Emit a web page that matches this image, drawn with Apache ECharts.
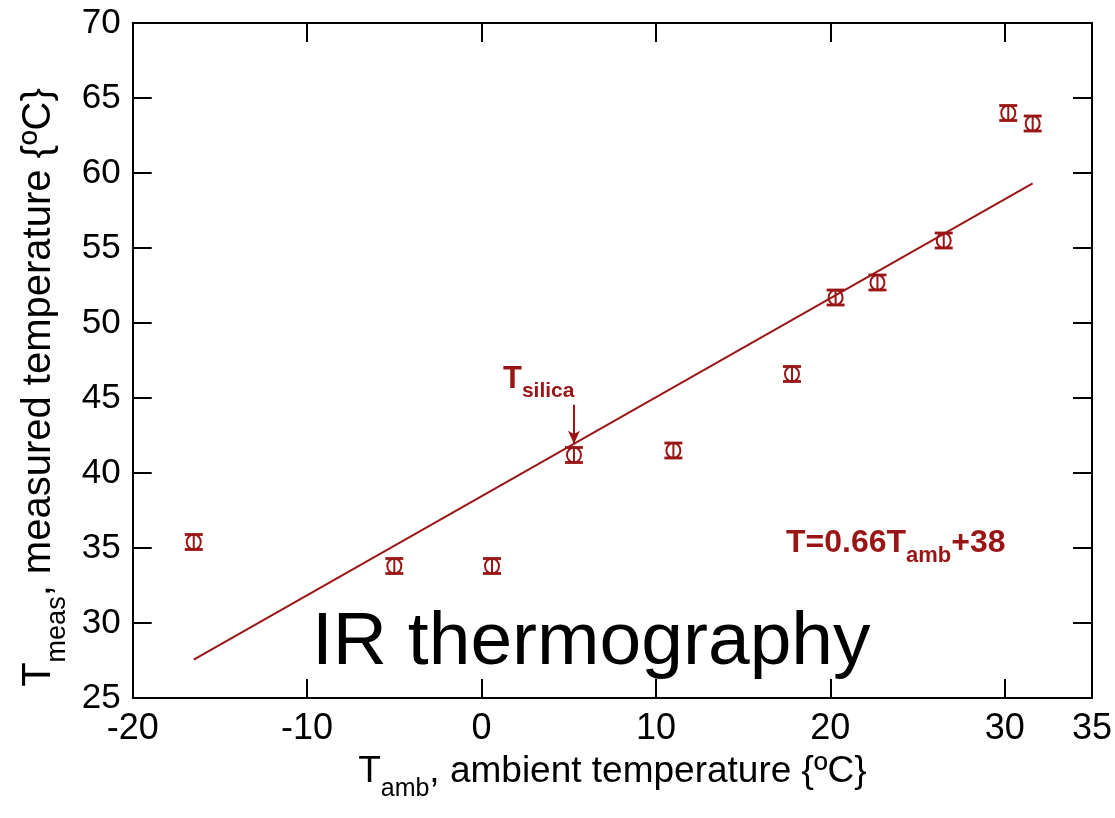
<!DOCTYPE html>
<html>
<head>
<meta charset="utf-8">
<script src="https://cdn.jsdelivr.net/npm/echarts@6/dist/echarts.min.js"></script>
<style>
  html, body { margin: 0; padding: 0; background: #fff; }
  #chart { width: 1115px; height: 818px; }
</style>
</head>
<body>
<div id="chart"></div>
<script>
// Ambient vs. measured temperature (IR thermography), with linear fit
const ambientTemp  = [-16.5, -5.0, 0.6, 5.3, 11.0, 17.8, 20.3, 22.7, 26.5, 30.2, 31.6];
const measuredTemp = [35.4, 33.8, 33.8, 41.2, 41.5, 46.6, 51.7, 52.7, 55.5, 64.0, 63.3];
const measuredErr  = [0.5, 0.5, 0.5, 0.5, 0.5, 0.5, 0.5, 0.5, 0.5, 0.5, 0.5];

// linear fit T = a * Tamb + b
const fitSlope = 0.66;
const fitIntercept = 38.45;

// index of the silica reference point marked by the arrow
const silicaIndex = 3;

// axis ranges and tick steps
const xMin = -20, xMax = 35, xStep = 10;
const yMin = 25, yMax = 70, yStep = 5;

const RED = '#9a1616';
const FONT = '"Liberation Sans", Arial, sans-serif';

const fit = x => fitSlope * x + fitIntercept;
const fitX0 = Math.min(...ambientTemp);
const fitX1 = Math.max(...ambientTemp);
const silicaX = ambientTemp[silicaIndex];

const points = ambientTemp.map((x, i) => [x, measuredTemp[i], measuredErr[i]]);

// hollow marker with vertical error bar and caps
function renderErrPoint(params, api) {
  const x = api.value(0), y = api.value(1), e = api.value(2);
  const c = api.coord([x, y]);
  const top = api.coord([x, y + e])[1];
  const bot = api.coord([x, y - e])[1];
  const hw = 9;
  const st = { stroke: RED, lineWidth: 2, fill: 'none' };
  const cap = { stroke: RED, lineWidth: 2.8, fill: 'none' };
  return {
    type: 'group',
    children: [
      { type: 'line', shape: { x1: c[0], y1: top, x2: c[0], y2: bot }, style: st },
      { type: 'line', shape: { x1: c[0] - hw, y1: top, x2: c[0] + hw, y2: top }, style: cap },
      { type: 'line', shape: { x1: c[0] - hw, y1: bot, x2: c[0] + hw, y2: bot }, style: cap },
      { type: 'ellipse', shape: { cx: c[0], cy: c[1], rx: 7, ry: (bot - top) / 2 }, style: st }
    ]
  };
}

const axisLine = { show: true, onZero: false, lineStyle: { color: '#000', width: 2 } };
const axisTick = { show: true, inside: true, length: 19, lineStyle: { color: '#000', width: 2 } };

const chart = echarts.init(document.getElementById('chart'), null, { renderer: 'canvas' });

const eqText = 'T=' + fitSlope.toFixed(2) + 'T{s|amb}+' + fitIntercept.toFixed(0);

chart.setOption({
  animation: false,
  backgroundColor: '#fff',
  textStyle: { fontFamily: FONT },
  grid: { left: 132.7, right: 22.3, top: 23, bottom: 120, containLabel: false },
  xAxis: [
    {
      type: 'value', position: 'bottom', min: xMin, max: xMax, interval: xStep,
      axisLine, axisTick, splitLine: { show: false },
      axisLabel: { color: '#000', fontSize: 36, margin: 13, fontFamily: FONT },
      name: 'T{s|amb}, ambient temperature {ºC}',
      nameLocation: 'middle', nameGap: 43,
      nameTextStyle: {
        color: '#000', fontSize: 37, fontFamily: FONT,
        rich: { s: { fontSize: 25, padding: [36, 0, 0, 0], fontFamily: FONT, color: '#000' } }
      }
    },
    {
      type: 'value', position: 'top', min: xMin, max: xMax, interval: xStep,
      axisLine, axisTick, axisLabel: { show: false }, splitLine: { show: false }
    }
  ],
  yAxis: [
    {
      type: 'value', position: 'left', min: yMin, max: yMax, interval: yStep,
      axisLine, axisTick, splitLine: { show: false },
      axisLabel: { color: '#000', fontSize: 35, margin: 12, fontFamily: FONT },
      name: 'T{s|meas}, measured temperature {ºC}',
      nameLocation: 'middle', nameGap: 59,
      nameTextStyle: {
        color: '#000', fontSize: 40, fontFamily: FONT, padding: [0, 54, 0, 0],
        rich: { s: { fontSize: 27, padding: [36, 0, 0, 0], fontFamily: FONT, color: '#000' } }
      }
    },
    {
      type: 'value', position: 'right', min: yMin, max: yMax, interval: yStep,
      axisLine, axisTick, axisLabel: { show: false }, splitLine: { show: false }
    }
  ],
  series: [
    {
      name: 'fit', type: 'line', xAxisIndex: 0, yAxisIndex: 0,
      data: [[fitX0, fit(fitX0)], [fitX1, fit(fitX1)]],
      showSymbol: false, symbol: 'none', silent: true,
      lineStyle: { color: RED, width: 2 },
      markLine: {
        silent: true, symbol: ['none', 'arrow'], symbolSize: [9, 13],
        lineStyle: { color: RED, width: 2, type: 'solid' },
        label: { show: false },
        data: [[{ coord: [silicaX, fit(silicaX) + 2.6] }, { coord: [silicaX, fit(silicaX)] }]]
      }
    },
    {
      name: 'measured', type: 'custom', xAxisIndex: 0, yAxisIndex: 0,
      data: points, renderItem: renderErrPoint, silent: true, z: 3
    }
  ],
  graphic: [
    {
      type: 'text', silent: true,
      style: {
        text: 'IR thermography', x: 312, y: 643, verticalAlign: 'middle', align: 'left',
        fontSize: 75, fontFamily: FONT, fill: '#000'
      }
    },
    {
      type: 'text', silent: true,
      style: {
        text: 'T{s|silica}', x: 503, y: 379, verticalAlign: 'middle', align: 'left',
        fontSize: 31, fontWeight: 'bold', fontFamily: FONT, fill: RED,
        rich: { s: { fontSize: 21, fontWeight: 'bold', fontFamily: FONT, fill: RED, padding: [25, 0, 0, 0] } }
      }
    },
    {
      type: 'text', silent: true,
      style: {
        text: eqText, x: 786, y: 543, verticalAlign: 'middle', align: 'left',
        fontSize: 32, fontWeight: 'bold', fontFamily: FONT, fill: RED,
        rich: { s: { fontSize: 22, fontWeight: 'bold', fontFamily: FONT, fill: RED, padding: [25, 0, 0, 0] } }
      }
    }
  ]
});
</script>
</body>
</html>
